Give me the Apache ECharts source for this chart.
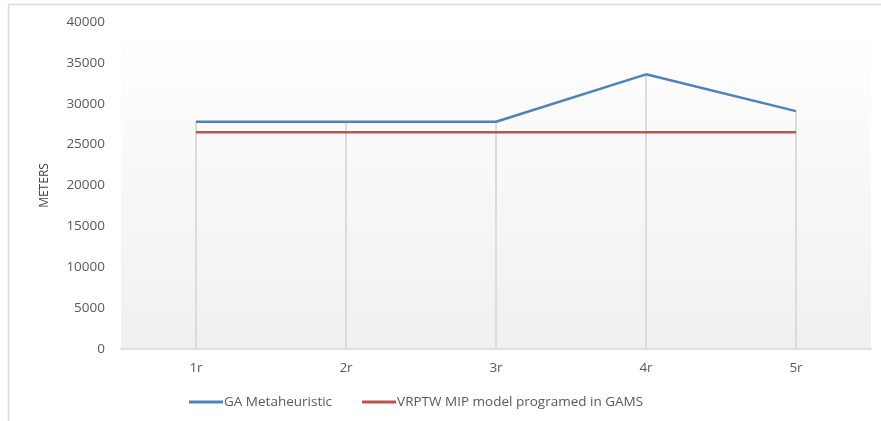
<!DOCTYPE html>
<html>
<head>
<meta charset="utf-8">
<script src="https://cdn.jsdelivr.net/npm/echarts@6/dist/echarts.min.js"></script>
<style>html,body{margin:0;padding:0;background:#fff}#c{width:881px;height:421px}</style>
</head>
<body>
<div id="c"></div>
<script>
var categories = ['1r', '2r', '3r', '4r', '5r'];
var gaValues = [27800, 27800, 27800, 33600, 29100];
var mipValues = [26500, 26500, 26500, 26500, 26500];
var seriesNames = ['GA Metaheuristic', 'VRPTW MIP model programed in GAMS'];
var yTicks = [0, 5000, 10000, 15000, 20000, 25000, 30000, 35000, 40000];

var dropValues = categories.map(function (c, i) { return Math.max(gaValues[i], mipValues[i]); });

var chart = echarts.init(document.getElementById('c'), null, {renderer: 'canvas'});
var font = '"Open Sans", "DejaVu Sans", sans-serif';
chart.setOption({
  animation: false,
  graphic: [
    {type: 'line', shape: {x1: 8.5, y1: 4.5, x2: 881, y2: 4.5}, style: {stroke: '#d9d9d9', lineWidth: 1.5}, z: -1},
    {type: 'line', shape: {x1: 8.5, y1: 4.5, x2: 8.5, y2: 421}, style: {stroke: '#d9d9d9', lineWidth: 1.5}, z: -1}
  ],
  grid: {
    left: 121, right: 10, top: 22, bottom: 72, show: true, borderWidth: 0,
    backgroundColor: new echarts.graphic.LinearGradient(0, 0, 0, 1, [
      {offset: 0, color: '#ffffff'},
      {offset: 1, color: '#f0f0f0'}
    ])
  },
  legend: {
    bottom: 7, left: 184,
    itemWidth: 34, itemHeight: 3, itemGap: 30,
    icon: 'rect',
    textStyle: {color: '#595959', fontSize: 13.5, fontFamily: font, padding: [0, 0, 0, -4]},
    data: seriesNames
  },
  xAxis: {
    type: 'category', data: categories, boundaryGap: true,
    axisLine: {lineStyle: {color: '#d9d9d9', width: 1.5}},
    axisTick: {show: false},
    axisLabel: {color: '#595959', fontSize: 13.5, margin: 12, fontFamily: font},
    splitLine: {show: false}
  },
  yAxis: {
    type: 'value', min: yTicks[0], max: yTicks[yTicks.length - 1], interval: 5000,
    name: 'METERS', nameLocation: 'middle', nameGap: 70, nameRotate: 90,
    nameTextStyle: {color: '#404040', fontSize: 12, fontFamily: font},
    axisLine: {show: false}, axisTick: {show: false},
    axisLabel: {color: '#595959', fontSize: 13.5, margin: 16, fontFamily: font,
      formatter: function (v) { return String(v); }},
    splitLine: {show: false}
  },
  series: [
    {
      name: 'drop', type: 'bar', data: dropValues, barWidth: 2, silent: true,
      itemStyle: {color: '#dcdcdc'}, z: 1, legendHoverLink: false
    },
    {
      name: seriesNames[0], type: 'line', data: gaValues, symbol: 'none',
      lineStyle: {color: '#4f81bd', width: 2.5}, itemStyle: {color: '#4f81bd'}, z: 3
    },
    {
      name: seriesNames[1], type: 'line', data: mipValues, symbol: 'none',
      lineStyle: {color: '#c0504d', width: 2.5}, itemStyle: {color: '#c0504d'}, z: 3
    }
  ]
});
</script>
</body>
</html>
